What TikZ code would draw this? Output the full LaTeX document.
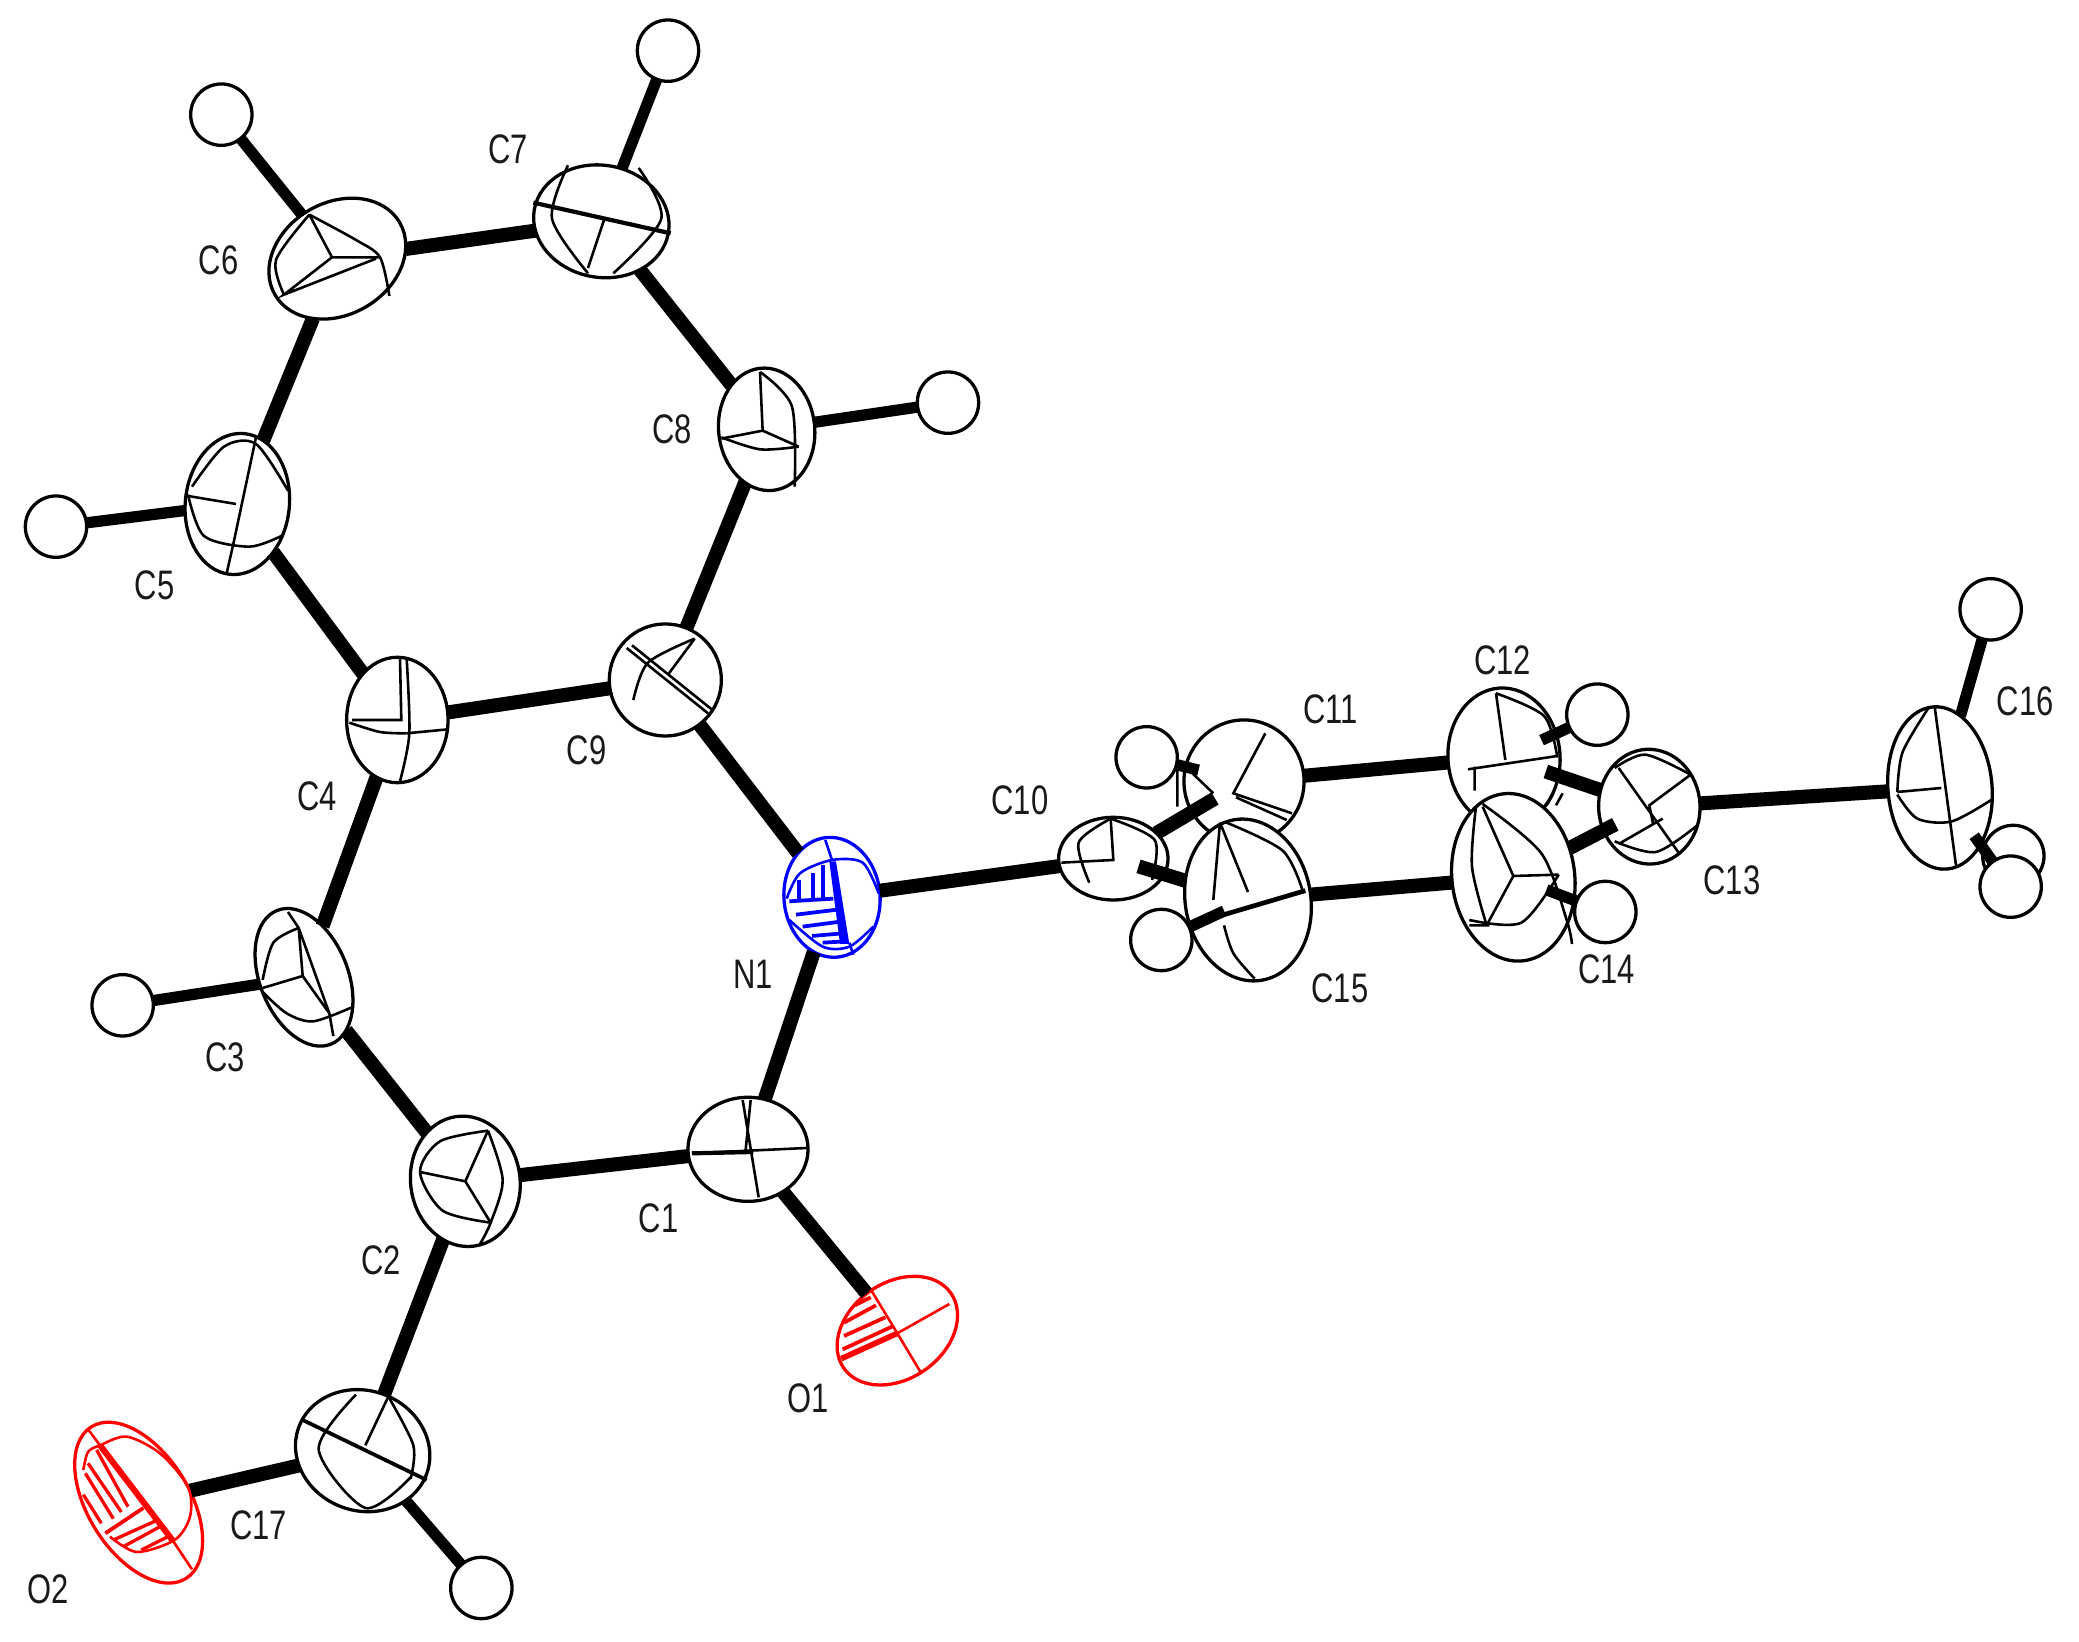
\documentclass[tikz,border=0pt]{standalone}
\usepackage{fontspec}
\usetikzlibrary{shapes.geometric}
\newfontfamily\atomfont[FakeStretch=.75]{Liberation Sans}
\tikzset{
	atom/.style={ellipse, draw, fill=white, line width=.7pt, inner sep=0pt, outer sep=0pt},
	hatom/.style={circle, draw, fill=white, line width=.7pt, inner sep=0pt, outer sep=0pt, minimum size=.46cm},
	bond/.style={line width=3pt},
	hbond/.style={line width=2.4pt},
	eje/.style={line width=.55pt},
	tag/.style={font=\atomfont\fontsize{8.8}{10}\selectfont, inner sep=0pt, text=black!90}
}
\begin{document}
\begin{tikzpicture}[x=.01cm, y=-.01cm]
	\useasboundingbox (0,0) rectangle (1559.25,1231.5);
	
	% Hidrogenos
	\foreach \n/\x/\y in {H6/166/86, H7/501/38, H8/711/302, H5/42/395, H3/92/754, H17/361/1191,
		H11/860/568, H15/871/705, H12/1198/536, H14/1204/684, H16a/1493/457, H16b/1510/642, H16c/1508/665}{
		\node[hatom] (\n) at (\x,\y) {};
	}
	
	% Carbonos, de atras hacia adelante
	\foreach \n/\x/\y/\a/\b/\r in {C1/561/862/45/39/0, C2/349/886/41/49/8, C3/228/733/33/54/22,
		C4/298/540/38/47/0, C5/178/378/39/53/-6, C6/253/194/54/42/30, C7/451/166/51/42/-10,
		C8/575/322/36/46/6, C9/499/510/42/42/0, C17/272/1088/51/45/-20,
		C11/933/586/45/46/0, C12/1128/568/42/52/4, C10/835/644/41/31/0,
		C15/936/675/47/61/10, C14/1135/658/46/63/7, C13/1237/605/38/43/3, C16/1455/591/39/61/5}{
		\node[atom, minimum width=\a*.02cm, minimum height=\b*.02cm, rotate=\r] (\n) at (\x,\y) {};
	}
	\node[atom, draw=blue, minimum width=.72cm, minimum height=.9cm, rotate=5] (N1) at (624,673) {};
	\node[atom, draw=red, minimum width=.98cm, minimum height=.72cm, rotate=35] (O1) at (673,998) {};
	\node[atom, draw=red, minimum width=1.34cm, minimum height=.76cm, rotate=-58] (O2) at (104,1127) {};
	
	% Enlaces
	\foreach \a/\b in {C1/C2, C2/C3, C3/C4, C4/C5, C5/C6, C6/C7, C7/C8, C8/C9, C9/C4, C9/N1, N1/C1,
		C1/O1, C2/C17, C17/O2, N1/C10, C11/C12, C15/C14, C13/C16}{
		\draw[bond] (\a) -- (\b);
	}
	\foreach \a/\b in {C6/H6, C7/H7, C8/H8, C5/H5, C3/H3, C17/H17, C16/H16a}{
		\draw[hbond] (\a) -- (\b);
	}
	\draw[bond, shorten >=-.2cm] (C10) -- (C11);
	\draw[bond, shorten <=-.2cm] (C10) -- (C15);
	\draw[bond, shorten <=-.1cm] (C12) -- (C13);
	\draw[bond, shorten >=-.1cm] (C14) -- (C13);
	\draw[hbond, shorten >=-.1cm] (H11) -- (C11);
	\draw[hbond, shorten >=-.12cm] (H12) -- (C12);
	\draw[hbond, shorten >=-.22cm] (H14) -- (C14);
	\draw[hbond, shorten >=-.28cm] (H15) -- (C15);
	\draw[hbond, shorten <=-.08cm] (C16) -- (H16c);
	
	% Ejes de los elipsoides
	\draw[eje] (519,865) -- (605,861) (557,825) -- (569,898) (563,825) -- (559,865);
	\draw[line width=.9pt] (519,865) -- (565,864);
	\draw[eje] (366,848) -- (349,886) -- (315,879) (349,886) -- (368,917);
	\draw[eje] plot[smooth] coordinates {(366,848) (330,856) (315,879) (332,908) (368,917)};
	\draw[eje] plot[smooth] coordinates {(366,848) (377,885) (368,917) (360,933)};
	\draw[eje] (224,696) -- (227,732) -- (197,741) (227,732) -- (247,760) (216,684) -- (224,696) -- (247,760) -- (250,777);
	\draw[eje] plot[smooth] coordinates {(224,696) (205,707) (197,735)};
	\draw[eje] plot[smooth] coordinates {(197,744) (215,760) (235,766) (265,755)};
	\draw[eje] (300,494) -- (301,540) -- (264,540) (336,547) -- (305,550);
	\draw[eje] plot[smooth] coordinates {(262,542) (285,549) (305,550)};
	\draw[eje] plot[smooth] coordinates {(305,494) (307,550) (300,586)};
	\draw[eje] (141,372) -- (177,378) (192,328) -- (175,408) -- (170,430);
	\draw[eje] plot[smooth] coordinates {(141,371) (153,402) (187,410) (211,402)};
	\draw[eje] plot[smooth] coordinates {(144,365) (168,335) (192,333) (216,368)};
	\draw[eje] (232,161) -- (249,193) -- (285,193) (249,193) -- (213,221) -- (282,194);
	\draw[eje] plot[smooth] coordinates {(232,161) (267,180) (285,193) (292,222)};
	\draw[eje] plot[smooth] coordinates {(213,221) (207,195) (232,161)};
	\draw[line width=.9pt] (400,152) -- (503,175);
	\draw[eje] (453,165) -- (441,201);
	\draw[eje] plot[smooth] coordinates {(426,124) (414,164) (441,205)};
	\draw[eje] plot[smooth] coordinates {(479,126) (496,164) (460,205)};
	\draw[eje] (570,279) -- (572,323) -- (541,329) (572,323) -- (599,335);
	\draw[eje] plot[smooth] coordinates {(541,328) (570,337) (599,335)};
	\draw[eje] plot[smooth] coordinates {(570,279) (594,305) (596,365)};
	\draw[eje] (470,486) -- (531,535) (474,484) -- (535,533) (521,479) -- (501,506);
	\draw[eje] plot[smooth] coordinates {(521,479) (486,497) (475,525)};
	\draw[line width=.8pt] (227,1065) -- (320,1110);
	\draw[eje] (291,1048) -- (274,1084);
	\draw[eje] plot[smooth] coordinates {(267,1046) (239,1087) (274,1131) (308,1108)};
	\draw[eje] plot[smooth] coordinates {(291,1047) (310,1084) (308,1109)};
	
	% Anillo derecho
	\begin{scope}[shift={(-2,-2)}]
		\draw[eje] (951,552) -- (927,597) -- (971,612) (929,600) -- (967,617) (885,577) -- (885,607);
		\draw[eje] (889,575) -- (912,597);
		\draw[eje] (1124,522) -- (1131,572) (1103,579) -- (1170,569) (1108,577) -- (1108,595);
		\draw[eje] plot[smooth] coordinates {(1124,522) (1160,539) (1170,570)};
		\draw[eje] (1167,597) -- (1162,606) (1174,597) -- (1169,606);
		\draw[eje] (917,619) -- (912,677) (917,619) -- (938,671);
		\draw[eje] plot[smooth] coordinates {(922,619) (964,640) (979,670)};
		\draw[eje] plot[smooth] coordinates {(920,696) (927,717) (943,736)};
		\draw[line width=1pt] (920,688) -- (981,670);
		\draw[eje] (1171,658) -- (1137,659) -- (1114,607) (1137,659) -- (1117,696) (1104,696) -- (1119,696);
		\draw[eje] plot[smooth] coordinates {(1114,605) (1158,642) (1177,692) (1181,710)};
		\draw[eje] plot[smooth] coordinates {(1109,607) (1106,652) (1117,696)};
		\draw[eje] plot[smooth] coordinates {(1104,692) (1143,694) (1171,658)};
		\draw[eje] (1216,578) -- (1262,643) (1270,583) -- (1239,606) -- (1242,621) (1216,635) -- (1249,616);
		\draw[eje] plot[smooth] coordinates {(1213,578) (1236,568) (1270,583)};
		\draw[eje] plot[smooth] coordinates {(1213,633) (1244,641) (1275,621)};
		\draw[eje] (1453,532) -- (1469,651) (1425,596) -- (1458,593);
		\draw[eje] plot[smooth] coordinates {(1425,598) (1440,616) (1466,618) (1497,601)};
		\draw[eje] plot[smooth] coordinates {(1449,532) (1429,566) (1425,596)};
	\end{scope}
	\draw[eje] (833,614) -- (835,645) -- (796,647);
	\draw[eje] plot[smooth] coordinates {(833,614) (809,632) (817,662)};
	\draw[eje] plot[smooth] coordinates {(833,614) (866,630) (864,660)};
	
	% N1
	\begin{scope}[blue]
		\draw[eje] (619,630) -- (624,645);
		\draw[eje] plot[smooth] coordinates {(590,674) (600,655) (624,645) (647,647) (659,670)};
		\draw[eje] plot[smooth] coordinates {(592,690) (617,710) (637,710) (655,695)};
		\draw[line width=.8pt] (599,660) -- (599,676) (610,655) -- (610,676) (617,649) -- (617,675);
		\draw[line width=.8pt] (592,676) -- (625,674) (597,686) -- (630,682) (602,695) -- (632,691) (609,702) -- (632,700) (617,707) -- (635,706);
		\draw[eje] (637,707) -- (640,716);
		\fill (622,646) -- (627,646) -- (637,708) -- (630,708) -- cycle;
	\end{scope}
	
	% O1
	\begin{scope}[red, shift={(0,1)}]
		\draw[eje] (712,977) -- (673,999) -- (691,1029) (673,999) -- (653,966);
		\draw[line width=1.2pt] (673,999) -- (631,1018);
		\draw[line width=.8pt] (653,972) -- (641,978) (657,978) -- (633,991) (664,987) -- (633,1001) (669,994) -- (632,1011);
	\end{scope}
	
	% O2
	\begin{scope}[red]
		\draw[line width=1.3pt] (75,1084) -- (130,1156);
		\draw[eje] (130,1156) -- (144,1177) (66,1072) -- (75,1084);
		\draw[line width=.8pt] (79,1150) -- (107.5,1131);
		\draw[eje] plot[smooth] coordinates {(62.5,1102.5) (66,1089) (75,1084) (95,1077.5) (120,1090) (141,1115) (142.5,1137.5) (131,1155) (102.5,1164) (82.5,1152.5)};
		\draw[line width=.7pt] (72.5,1087.5) -- (96,1130) (66,1097.5) -- (91,1134) (64,1105) -- (85,1139) (62.5,1121) -- (76,1142.5);
		\draw[line width=.7pt] (85,1155) -- (116,1141) (92.5,1160) -- (120,1145) (106,1162.5) -- (126,1152.5);
	\end{scope}
	
	% Etiquetas
	\foreach \n/\x/\y in {C1/494/914, C2/286/945, C3/169/793, C4/238/597, C5/116/439, C6/164/195,
		C7/381/112, C8/504/322, C9/440/563, C10/765/600, C11/998/532, C12/1127/495, C13/1299/660,
		C14/1205/727, C15/1005/741, C16/1519/526, C17/194/1144, O1/606/1049, O2/36/1192, N1/565/731}{
		\node[tag] (lab\n) at (\x,\y) {\n};
	}
\end{tikzpicture}
\end{document}
